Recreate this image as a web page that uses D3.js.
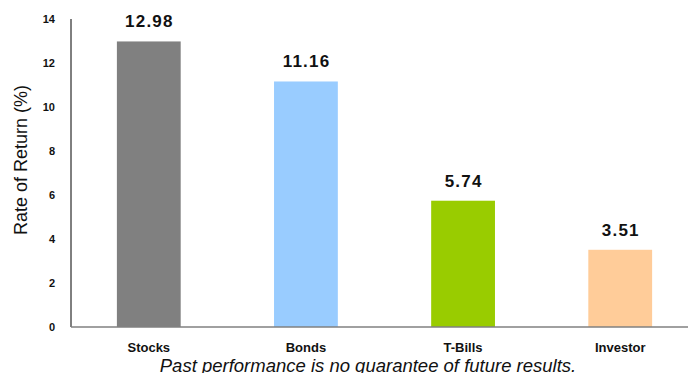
<!DOCTYPE html>
<html><head><meta charset="utf-8">
<script src="https://cdn.jsdelivr.net/npm/d3@7"></script>
<style>body{margin:0;background:#fff}svg{display:block}</style>
</head><body>
<svg id="c" width="688" height="373"></svg>
<script>
const categories = ["Stocks", "Bonds", "T-Bills", "Investor"];
const values = [12.98, 11.16, 5.74, 3.51];
const colors = ["#808080", "#99CCFF", "#99CC00", "#FFCC99"];
const yTicks = [0, 2, 4, 6, 8, 10, 12, 14];

const FONT = "Liberation Sans, Arial, sans-serif";
const svg = d3.select("#c");
const x = d3.scaleBand().domain(categories).range([71, 698])
  .paddingInner(0.594).paddingOuter(0.292);
const y = d3.scaleLinear().domain([0, 14]).range([327, 19]);

// bars
svg.selectAll("rect.bar").data(values).enter().append("rect")
  .attr("class", "bar")
  .attr("x", (d, i) => x(categories[i]))
  .attr("width", x.bandwidth())
  .attr("y", d => y(d))
  .attr("height", d => y(0) - y(d))
  .attr("fill", (d, i) => colors[i]);

// value labels
svg.selectAll("text.val").data(values).enter().append("text")
  .attr("class", "val")
  .attr("x", (d, i) => x(categories[i]) + x.bandwidth() / 2 + 0.6)
  .attr("y", d => y(d) - 14)
  .attr("text-anchor", "middle")
  .attr("font-family", FONT)
  .attr("font-weight", "bold").attr("font-size", 17)
  .attr("letter-spacing", 1.2)
  .attr("fill", "#111")
  .text(d => d.toFixed(2));

// y axis
const ya = d3.axisLeft(y).tickValues(yTicks).tickSize(0).tickPadding(16).tickFormat(d3.format("d"));
const gy = svg.append("g").attr("transform", "translate(71,0)").call(ya);
gy.select(".domain").attr("stroke", "#000").attr("d", `M0,${y(14)}V${y(0)}`);
gy.selectAll("text").attr("font-family", FONT)
  .attr("font-weight", "bold").attr("font-size", 11).attr("fill", "#111");

// x axis
const xa = d3.axisBottom(x).tickSize(0).tickPadding(16);
const gx = svg.append("g").attr("transform", `translate(0,${y(0)})`).call(xa);
gx.select(".domain").attr("stroke", "#808080").attr("stroke-width", 1.5).attr("d", "M71,0H688");
gx.selectAll("text").attr("font-family", FONT)
  .attr("font-weight", "bold").attr("font-size", 13).attr("fill", "#111");

// y title
svg.append("text").attr("transform", "translate(27,160) rotate(-90)")
  .attr("text-anchor", "middle")
  .attr("font-family", FONT)
  .attr("font-size", 18).attr("fill", "#111")
  .text("Rate of Return (%)");

// footnote
svg.append("text").attr("x", 368).attr("y", 372)
  .attr("text-anchor", "middle")
  .attr("font-family", FONT)
  .attr("font-style", "italic").attr("font-size", 18.5).attr("fill", "#111")
  .text("Past performance is no guarantee of future results.");
</script>
</body></html>
